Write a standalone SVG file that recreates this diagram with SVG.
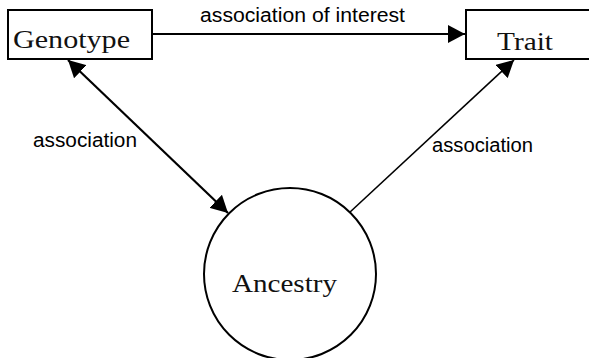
<svg xmlns="http://www.w3.org/2000/svg" width="589" height="358" viewBox="0 0 589 358">
<style>
.box{fill:#fff;stroke:#000;stroke-width:2}
.serif{font-family:"Liberation Serif","Times New Roman",serif;font-size:25px;fill:#111}
.sans{font-family:"Liberation Sans",Arial,sans-serif;font-size:20px;fill:#000}
.edge{stroke:#000;fill:none}
</style>
<defs>
<marker id="ah" viewBox="0 0 17 18" refX="17" refY="9" markerWidth="17" markerHeight="18" markerUnits="userSpaceOnUse" orient="auto-start-reverse">
<path d="M0,0 L17,9 L0,18 Z" fill="#000"/>
</marker>
</defs>
<g id="connectors">
<line class="edge" x1="152" y1="34" x2="465" y2="34" stroke-width="2" marker-end="url(#ah)"/>
<line class="edge" x1="68" y1="60" x2="228" y2="213" stroke-width="2.2" marker-start="url(#ah)" marker-end="url(#ah)"/>
<line class="edge" x1="349" y1="213" x2="514" y2="60" stroke-width="1.6" marker-end="url(#ah)"/>
<text class="sans" x="200" y="22" textLength="205" lengthAdjust="spacingAndGlyphs">association of interest</text>
<text class="sans" x="33" y="147" textLength="104" lengthAdjust="spacingAndGlyphs">association</text>
<text class="sans" x="432" y="152" textLength="101" lengthAdjust="spacingAndGlyphs">association</text>
</g>
<g id="genotype">
<rect class="box" x="8" y="10" width="144" height="49"/>
<text class="serif" x="13" y="48" textLength="117" lengthAdjust="spacingAndGlyphs">Genotype</text>
</g>
<g id="trait">
<rect class="box" x="466" y="10" width="130" height="49"/>
<text class="serif" x="497" y="50" textLength="56" lengthAdjust="spacingAndGlyphs">Trait</text>
</g>
<g id="ancestry">
<circle cx="290" cy="274" r="86" fill="#fff" stroke="#000" stroke-width="2"/>
<text class="serif" x="232" y="292" textLength="105" lengthAdjust="spacingAndGlyphs">Ancestry</text>
</g>
</svg>
